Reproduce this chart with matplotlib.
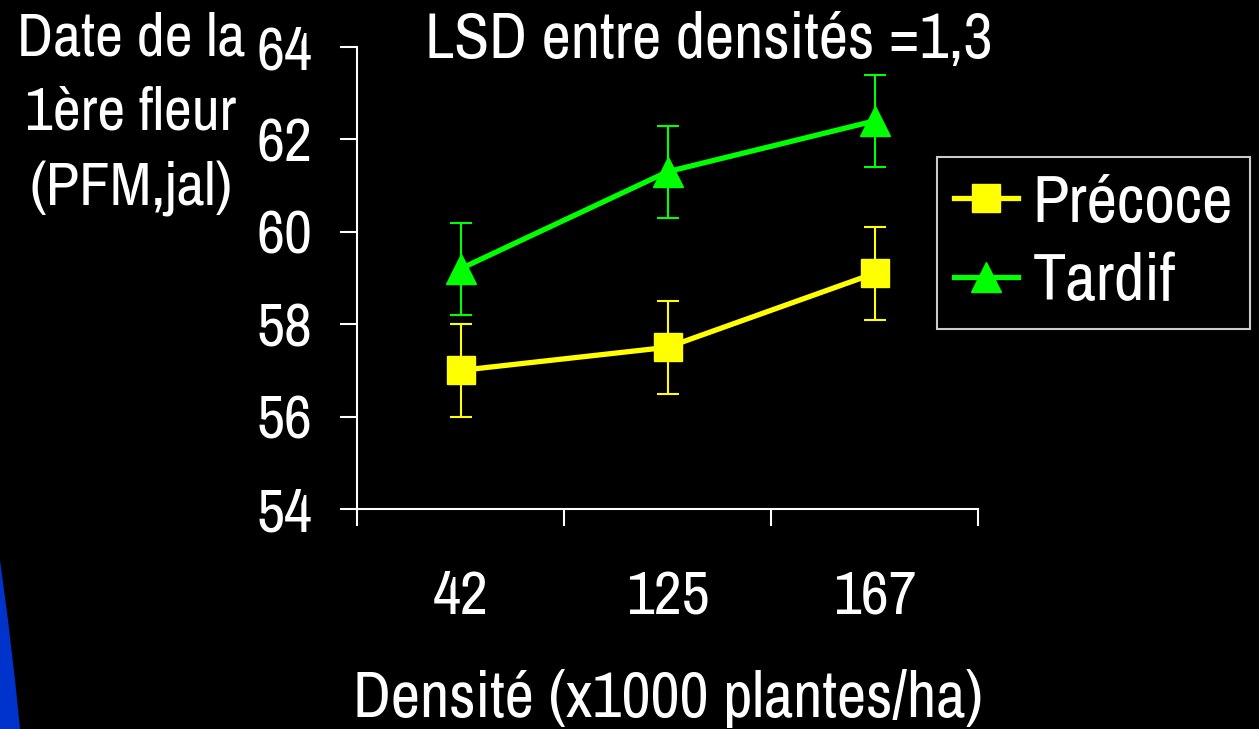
import matplotlib
matplotlib.use("Agg")
import matplotlib.pyplot as plt
from matplotlib.patches import Polygon
from matplotlib.lines import Line2D
import numpy as np

categories = ["42", "125", "167"]
precoce = [57.0, 57.5, 59.1]
tardif = [59.2, 61.3, 62.4]
precoce_err = [1.0, 1.0, 1.0]
tardif_err = [1.0, 1.0, 1.0]
yticks = [54, 56, 58, 60, 62, 64]

plt.rcParams['font.family'] = ['Archivo Narrow', 'Liberation Sans', 'DejaVu Sans']
FS = 44

W, H = 1259, 729
fig = plt.figure(figsize=(W/100, H/100), dpi=100, facecolor='black')

# blue decoration bottom-left
pts = [(0, 560), (8, 620), (15, 680), (20, 729), (0, 729)]
poly = Polygon([(x / W, 1 - y / H) for x, y in pts], closed=True,
               transform=fig.transFigure, facecolor='#0033cc', edgecolor='none')
fig.patches.append(poly)

ax = fig.add_axes([357/W, 1 - 509/H, (978-357)/W, (509-47)/H])
ax.set_facecolor('black')
x = np.arange(len(categories))

ax.errorbar(x, tardif, yerr=tardif_err, color='#00ff00', lw=3.8, marker='^',
            ms=22, mfc='#00ff00', mec='#00ff00', ecolor='#00ff00',
            elinewidth=1.5, capsize=8, capthick=1.5, label='Tardif', zorder=3)
ax.errorbar(x, precoce, yerr=precoce_err, color='#ffff00', lw=3.8, marker='s',
            ms=20, mfc='#ffff00', mec='#ffff00', ecolor='#ffff00',
            elinewidth=1.5, capsize=8, capthick=1.5, label='Précoce', zorder=3)

ax.set_xlim(-0.5, 2.5)
ax.set_ylim(54, 64)
ax.set_yticks(yticks)
ax.set_xticks([-0.5, 0.5, 1.5, 2.5])
ax.set_xticklabels([])
ax.set_xticks(x, minor=True)
ax.set_xticklabels(categories, minor=True)
for s in ['top', 'right']:
    ax.spines[s].set_visible(False)
for s in ['left', 'bottom']:
    ax.spines[s].set_color('white')
    ax.spines[s].set_linewidth(1.5)
ax.tick_params(axis='y', colors='white', labelsize=FS, length=12, width=1.5, pad=20)
ax.tick_params(axis='x', which='major', colors='white', length=12, width=1.5)
ax.tick_params(axis='x', which='minor', colors='white', length=0, labelsize=FS, pad=44)

fig.text(668/W, 1 - 698/H, 'Densité (x1000 plantes/ha)', color='white',
         fontsize=46, ha='center', va='center')
fig.text(709/W, 1 - 40/H, 'LSD entre densités =1,3', color='white', fontsize=46,
         ha='center', va='center')
fig.text(131/W, 1 - 114/H, 'Date de la\n1ère fleur\n(PFM,jal)', color='white',
         fontsize=FS, ha='center', va='center', linespacing=1.45)

LFS = 48
h = [Line2D([], [], color='#ffff00', lw=3.8, marker='s', ms=20),
     Line2D([], [], color='#00ff00', lw=3.8, marker='^', ms=22)]
leg = fig.legend(h, ['Précoce', 'Tardif'], loc='upper left',
                 bbox_to_anchor=(937/W, 1 - 157/H), fontsize=LFS,
                 frameon=True, facecolor='black', edgecolor='white',
                 labelcolor='white', fancybox=False, handlelength=0.96,
                 handletextpad=0.22, borderpad=0.25, labelspacing=0.28,
                 borderaxespad=0)
leg.get_frame().set_linewidth(1.5)

fig.savefig('out.png', dpi=100, facecolor='black')
